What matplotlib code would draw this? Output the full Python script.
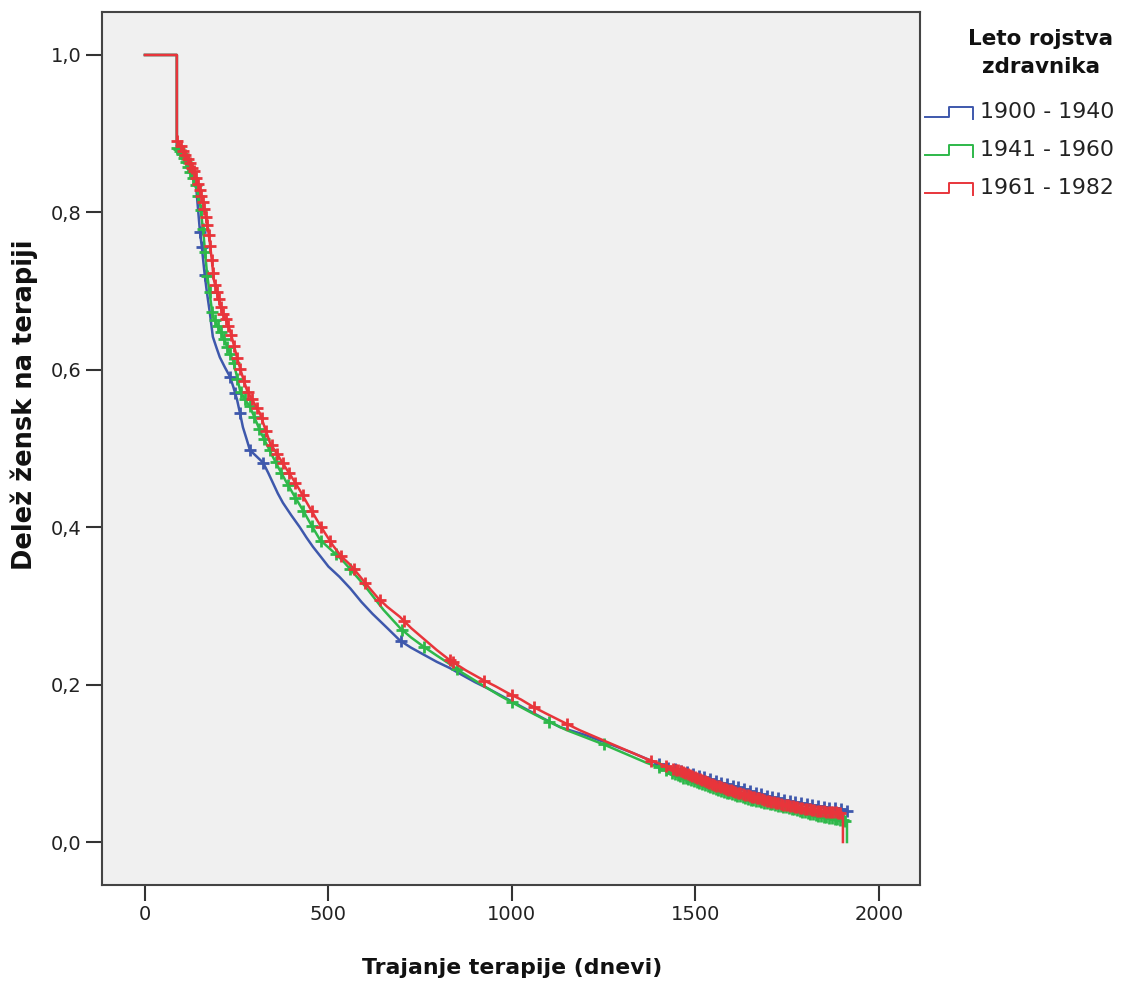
import numpy as np
import matplotlib
matplotlib.use("Agg")
import matplotlib.pyplot as plt
from matplotlib.lines import Line2D

# ---------------- data ----------------
groups = ["1900 - 1940", "1941 - 1960", "1961 - 1982"]

t_blue = [0, 87, 87, 110, 130, 140, 150, 155, 163, 169, 177, 185, 195, 204, 218, 232, 241, 251, 259, 267,
          277, 286, 304, 322, 336, 349, 362, 376, 399, 422, 440, 458, 480, 500, 530, 560, 590, 620, 660,
          695, 725, 760, 795, 831, 865, 900, 935, 967, 1010, 1050, 1090, 1131, 1165, 1200, 1240, 1280,
          1330, 1376, 1422, 1455, 1485, 1510, 1531, 1555, 1575, 1600, 1620, 1640, 1670, 1700, 1720, 1738,
          1760, 1780, 1804, 1830, 1860, 1894, 1913]
s_blue = [1.0, 1.0, 0.885, 0.865, 0.845, 0.830, 0.775, 0.756, 0.720, 0.698, 0.672, 0.642, 0.628, 0.616,
          0.603, 0.591, 0.578, 0.562, 0.545, 0.527, 0.512, 0.498, 0.490, 0.482, 0.469, 0.456, 0.443, 0.431,
          0.415, 0.400, 0.387, 0.375, 0.362, 0.350, 0.337, 0.322, 0.305, 0.290, 0.272, 0.256, 0.247, 0.238,
          0.229, 0.221, 0.212, 0.203, 0.195, 0.187, 0.176, 0.166, 0.156, 0.146, 0.141, 0.136, 0.129, 0.122,
          0.113, 0.104, 0.095, 0.091, 0.088, 0.084, 0.081, 0.078, 0.075, 0.072, 0.069, 0.066, 0.062, 0.058,
          0.056, 0.054, 0.052, 0.050, 0.048, 0.046, 0.044, 0.042, 0.040]
c_blue = [150, 155, 163, 232, 246, 259, 286, 322, 699, 1400, 1425, 1445, 1462, 1478, 1493, 1509, 1524,
          1540, 1555, 1571, 1586, 1602, 1617, 1633, 1648, 1664, 1679, 1695, 1710, 1726, 1741, 1757, 1772,
          1788, 1803, 1819, 1834, 1850, 1865, 1881, 1896, 1913]

t_green = [0, 87, 87, 100, 114, 125, 136, 150, 160, 169, 177, 185, 199, 213, 226, 240, 250, 259, 272, 286,
           300, 313, 331, 349, 368, 387, 408, 430, 453, 477, 510, 540, 570, 600, 625, 650, 695, 725, 760,
           795, 831, 865, 900, 935, 967, 1010, 1050, 1100, 1150, 1200, 1250, 1290, 1330, 1365, 1400, 1430,
           1466, 1500, 1530, 1560, 1590, 1621, 1650, 1680, 1710, 1735, 1757, 1780, 1805, 1830, 1855, 1875,
           1895, 1913, 1913]
s_green = [1.0, 1.0, 0.883, 0.875, 0.862, 0.850, 0.838, 0.812, 0.770, 0.723, 0.695, 0.667, 0.655, 0.642,
           0.627, 0.612, 0.593, 0.574, 0.563, 0.553, 0.538, 0.523, 0.506, 0.489, 0.472, 0.456, 0.439,
           0.422, 0.403, 0.384, 0.370, 0.357, 0.341, 0.325, 0.310, 0.295, 0.272, 0.260, 0.248, 0.237,
           0.226, 0.215, 0.205, 0.195, 0.186, 0.175, 0.165, 0.153, 0.142, 0.133, 0.124, 0.116, 0.108,
           0.101, 0.095, 0.089, 0.082, 0.077, 0.072, 0.067, 0.062, 0.058, 0.054, 0.051, 0.048, 0.045,
           0.043, 0.040, 0.037, 0.034, 0.032, 0.030, 0.028, 0.027, 0.0]
c_green = [88, 92, 96, 101, 106, 112, 118, 124, 131, 138, 145, 152, 158, 164, 170, 176, 183, 190, 198,
           206, 215, 224, 233, 242, 252, 262, 273, 285, 298, 311, 325, 340, 356, 372, 390, 410, 432, 455,
           480, 520, 560, 700, 760, 850, 1000, 1100, 1250, 1400, 1420, 1436, 1445, 1452, 1459, 1467, 1474,
           1481, 1489, 1496, 1503, 1511, 1518, 1526, 1533, 1540, 1548, 1555, 1562, 1570, 1577, 1585, 1592,
           1599, 1607, 1614, 1621, 1629, 1636, 1644, 1651, 1658, 1666, 1673, 1680, 1688, 1695, 1703, 1710,
           1717, 1725, 1732, 1739, 1747, 1754, 1762, 1769, 1776, 1784, 1791, 1798, 1806, 1813, 1821, 1828,
           1835, 1843, 1850, 1857, 1865, 1872, 1880, 1887, 1894, 1902, 1908]

t_red = [0, 87, 87, 100, 114, 125, 136, 150, 163, 172, 177, 182, 188, 199, 210, 222, 232, 243, 253, 265,
         278, 295, 313, 327, 341, 364, 387, 405, 422, 445, 469, 490, 512, 535, 560, 585, 613, 635, 660,
         695, 725, 760, 795, 831, 875, 921, 955, 990, 1025, 1057, 1090, 1120, 1150, 1185, 1220, 1260,
         1295, 1330, 1365, 1400, 1440, 1477, 1505, 1531, 1555, 1580, 1600, 1621, 1645, 1670, 1690, 1711,
         1735, 1760, 1780, 1804, 1830, 1850, 1872, 1894, 1902, 1902]
s_red = [1.0, 1.0, 0.892, 0.882, 0.870, 0.861, 0.850, 0.828, 0.803, 0.778, 0.761, 0.740, 0.714, 0.693,
         0.674, 0.662, 0.650, 0.630, 0.612, 0.593, 0.574, 0.560, 0.545, 0.526, 0.507, 0.490, 0.473, 0.460,
         0.447, 0.428, 0.409, 0.393, 0.377, 0.363, 0.352, 0.338, 0.322, 0.310, 0.299, 0.286, 0.272, 0.258,
         0.244, 0.231, 0.218, 0.206, 0.198, 0.189, 0.181, 0.172, 0.164, 0.157, 0.150, 0.142, 0.135, 0.127,
         0.120, 0.113, 0.106, 0.100, 0.093, 0.087, 0.081, 0.076, 0.072, 0.068, 0.065, 0.062, 0.059, 0.056,
         0.053, 0.051, 0.048, 0.046, 0.044, 0.042, 0.040, 0.039, 0.038, 0.037, 0.036, 0.0]
c_red = [88, 97, 104, 110, 117, 123, 129, 134, 140, 145, 150, 154, 158, 162, 166, 170, 174, 178, 182,
         186, 191, 196, 201, 207, 213, 220, 227, 235, 243, 251, 260, 270, 280, 292, 305, 318, 330, 345,
         360, 375, 392, 410, 430, 455, 480, 505, 535, 570, 600, 640, 705, 830, 840, 925, 1000, 1060, 1150,
         1380, 1420, 1440, 1447, 1453, 1460, 1466, 1473, 1479, 1486, 1492, 1499, 1505, 1512, 1518, 1525,
         1531, 1538, 1544, 1551, 1557, 1564, 1570, 1577, 1583, 1590, 1596, 1603, 1609, 1616, 1622, 1629,
         1635, 1642, 1648, 1655, 1661, 1668, 1674, 1681, 1687, 1694, 1700, 1707, 1713, 1720, 1726, 1733,
         1739, 1746, 1752, 1759, 1765, 1772, 1778, 1785, 1791, 1798, 1804, 1811, 1817, 1824, 1830, 1837,
         1843, 1850, 1856, 1863, 1869, 1876, 1882, 1889, 1895]

colors = ["#3e58ac", "#2eb84a", "#e8353b"]
x_ticks = [0, 500, 1000, 1500, 2000]
y_ticks = [0.0, 0.2, 0.4, 0.6, 0.8, 1.0]

series = [(t_blue, s_blue, c_blue), (t_green, s_green, c_green), (t_red, s_red, c_red)]

# ---------------- figure ----------------
W, H = 1124, 983
fig = plt.figure(figsize=(W / 100, H / 100), dpi=100)
fig.patch.set_facecolor("white")
ax = fig.add_axes([102 / W, 1 - 885 / H, (920 - 102) / W, (885 - 12) / H])
ax.set_facecolor("#f0f0f0")

for i, (t, s, c) in enumerate(series):
    t = np.array(t, float)
    s = np.array(s, float)
    ax.plot(t, s, color=colors[i], lw=1.8, zorder=2 + i, solid_joinstyle="round")
    c = np.array(c, float)
    ax.plot(c, np.interp(c, t, s), ls="none", marker="+", ms=8, mew=2.0, color=colors[i],
            zorder=2 + i)

ax.set_xlim(-117, 2112)
ax.set_ylim(-0.0546, 1.0546)
ax.set_xticks(x_ticks)
ax.set_xticklabels([str(v) for v in x_ticks])
ax.set_yticks(y_ticks)
ax.set_yticklabels([f"{v:.1f}".replace(".", ",") for v in y_ticks])
ax.tick_params(direction="out", length=11.5, width=1.5, colors="#333333", labelsize=14,
               labelcolor="#222222", pad=3)
for sp in ax.spines.values():
    sp.set_color("#444444")
    sp.set_linewidth(1.5)

fig.text(512 / W, 1 - 968 / H, "Trajanje terapije (dnevi)", ha="center", va="center",
         fontsize=15.8, fontweight="bold", color="#111111")
fig.text(24 / W, 1 - 405 / H, "Delež žensk na terapiji", ha="center", va="center",
         rotation=90, fontsize=18.5, fontweight="bold", color="#111111")

# ---------------- legend ----------------
fig.text(1041 / W, 1 - 53 / H, "Leto rojstva\nzdravnika", ha="center", va="center",
         fontsize=15.5, fontweight="bold", color="#111111", linespacing=1.45)
label_y = [112, 150, 188]
for i, g in enumerate(groups):
    yc = label_y[i]
    px = [925, 949, 949, 973, 973]
    py = [yc + 5, yc + 5, yc - 5, yc - 5, yc + 7]
    fx = [p / W for p in px]
    fy = [1 - p / H for p in py]
    fig.add_artist(Line2D(fx, fy, transform=fig.transFigure, color=colors[i], lw=1.4))
    fig.text(980 / W, 1 - yc / H, g, ha="left", va="center", fontsize=15.8, color="#222222")

fig.savefig("out.png", dpi=100)
